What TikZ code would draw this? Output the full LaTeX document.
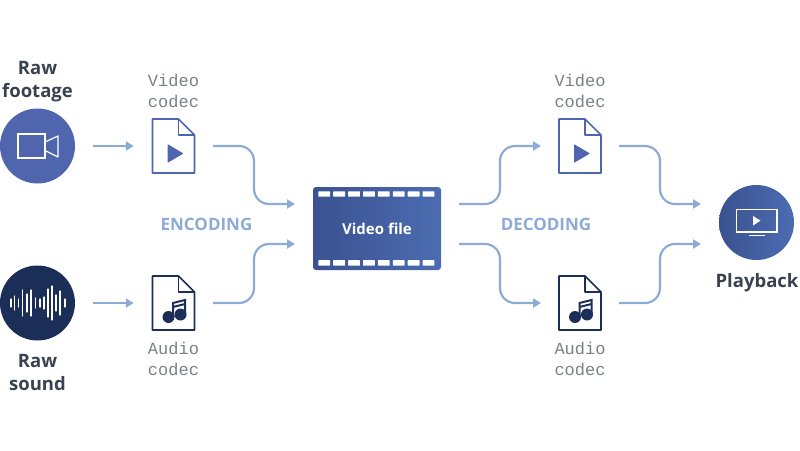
\documentclass[tikz,border=0pt]{standalone}
\usepackage{xcolor}
\usepackage{fontspec}
\setmainfont{Open Sans}
\setmonofont{Liberation Mono}
\usetikzlibrary{arrows.meta}
\usetikzlibrary{calc}
\definecolor{flowblue}{HTML}{8CABD6}
\definecolor{steelblue}{HTML}{4F66AE}
\definecolor{shadeleft}{HTML}{3A5290}
\definecolor{shaderight}{HTML}{4C6CB2}
\definecolor{navyblue}{HTML}{1B2E57}
\definecolor{labeldark}{HTML}{39424E}
\definecolor{codecgrey}{HTML}{7B8087}
\tikzstyle{source} = [circle, minimum size=75pt, inner sep=0pt]
\tikzstyle{codec} = [rectangle, minimum width=43pt, minimum height=55pt, inner sep=0pt, node distance=136pt]
\tikzstyle{title} = [text=labeldark, font=\fontsize{18.5}{23}\selectfont\bfseries, align=center, inner sep=0pt]
\tikzstyle{mono} = [text=codecgrey, font=\fontsize{17}{21}\selectfont\ttfamily, align=center, inner sep=0pt]
\tikzstyle{stage} = [text=flowblue, font=\fontsize{17}{20}\selectfont\bfseries, inner sep=0pt]
\tikzstyle{flow} = [draw=flowblue, line width=2.2pt, -{Triangle[length=8pt,width=9pt]}, rounded corners=15pt]
\newcommand{\docicon}[2]{
	\begin{scope}[shift={(#1.center)}, line width=1.7pt, #2, line join=round]
		\draw (-21,-27) -- (5,-27) -- (21,-11) -- (21,27) -- (-21,27) -- cycle;
		\draw (5,-27) -- (5,-11) -- (21,-11);
	\end{scope}
}
\begin{document}
\begin{tikzpicture}[x=1pt, y=-1pt]
		\useasboundingbox (0,0) rectangle (800,450);
		\node [source, name=footage, fill=steelblue] at (37.5,146) {};
		\node [source, name=sound, fill=navyblue, below of=footage, node distance=157pt] {};
		\node [codec, name=vcodec, right of=footage] {};
		\node [codec, name=acodec, right of=sound] {};
		\node [rectangle, name=videofile, minimum width=128pt, minimum height=83pt, inner sep=0pt, rounded corners=3pt, left color=shadeleft, right color=shaderight, text=white, font=\fontsize{15}{18}\selectfont\bfseries] at (377,228.5) {Video file};
		\node [codec, name=vcodecout, right of=vcodec, node distance=406.5pt] {};
		\node [codec, name=acodecout, right of=acodec, node distance=406.5pt] {};
		\node [source, name=playback, left color=shadeleft, right color=shaderight] at (756.5,222.5) {};

		\node [title, name=footagelabel] at (37.5,81.5) {Raw\\footage};
		\node [title, name=soundlabel] at (37.5,372) {Raw\\sound};
		\node [title, name=playbacklabel] at (757,282.5) {Playback};
		\node [mono, name=vlabel] at (173.5,91) {Video\\codec};
		\node [mono, name=alabel] at (173.5,358.5) {Audio\\codec};
		\node [mono, name=vlabelout] at (580,91) {Video\\codec};
		\node [mono, name=alabelout] at (580,358.5) {Audio\\codec};
		\node [stage, name=encoding] at (206.5,224) {ENCODING};
		\node [stage, name=decoding] at (546,224) {DECODING};

		% ends of the curved connectors
		\coordinate (vstart) at (213,146);
		\coordinate (astart) at (213,303);
		\coordinate (in1) at (295,204);
		\coordinate (in2) at (295,244);
		\coordinate (out1) at (459,204);
		\coordinate (out2) at (459,244);
		\coordinate (vend) at (541,146);
		\coordinate (aend) at (541,303);
		\coordinate (vstartout) at (619,146);
		\coordinate (astartout) at (619,303);
		\coordinate (play1) at (701,204);
		\coordinate (play2) at (701,244);

		\draw [flow, shorten <=18pt, shorten >=18pt] (footage) -- (vcodec);
		\draw [flow, shorten <=18pt, shorten >=18pt] (sound) -- (acodec);
		\draw [flow] (vstart) -| ($(vstart)!0.5!(in1)$) |- (in1);
		\draw [flow] (astart) -| ($(astart)!0.5!(in2)$) |- (in2);
		\draw [flow] (out1) -| ($(out1)!0.5!(vend)$) |- (vend);
		\draw [flow] (out2) -| ($(out2)!0.5!(aend)$) |- (aend);
		\draw [flow] (vstartout) -| ($(vstartout)!0.5!(play1)$) |- (play1);
		\draw [flow] (astartout) -| ($(astartout)!0.5!(play2)$) |- (play2);

		% film holes
		\foreach \i in {0,...,7} {
			\fill [white, rounded corners=0.5pt] (318.3+\i*14.9,191.3) rectangle ++(11.8,5.4);
			\fill [white, rounded corners=0.5pt] (318.3+\i*14.9,260.2) rectangle ++(11.8,5.4);
		}

		% document icons
		\docicon{vcodec}{draw=steelblue}
		\docicon{vcodecout}{draw=steelblue}
		\docicon{acodec}{draw=navyblue}
		\docicon{acodecout}{draw=navyblue}
		\foreach \n in {vcodec,vcodecout} {
			\fill [steelblue, draw=steelblue, line width=1pt, line join=round, shift={(\n.center)}] (-5.5,-1) -- (9,7.5) -- (-5.5,16) -- cycle;
		}
		\foreach \n in {acodec,acodecout} {
			\begin{scope}[shift={(\n.center)}]
				\fill [navyblue] (-5,14) circle (6pt) (7,11.5) circle (6pt);
				\draw [navyblue, line width=2pt] (-0.5,14) -- (-0.5,0) -- (11.5,-3) -- (11.5,11.5);
				\draw [navyblue, line width=2pt] (-0.5,4) -- (11.5,1);
			\end{scope}
		}

		% camera
		\draw [white, line width=1.2pt] (18,134) rectangle (45,158);
		\draw [white, line width=1.2pt, line join=round] (45,142) -- (58,136) -- (58,157) -- (45,150.5);

		% sound wave
		\foreach \x/\h in {11/4,14.5/7,18.5/4,22.5/13,27/9,31/13,35.5/5,40/4,44/6,48/14,52/17,56/8,60/12,65/4} {
			\draw [white, line width=1.2pt, line cap=round] (\x,303-\h) -- (\x,303+\h);
		}

		% screen
		\draw [white, line width=1.2pt] (736.5,209.5) rectangle (777,232);
		\draw [white, line width=1.2pt] (748.5,235.5) -- (765,235.5);
		\fill [white] (753,216) -- (760.5,220.7) -- (753,225.5) -- cycle;
	\end{tikzpicture}
\end{document}
